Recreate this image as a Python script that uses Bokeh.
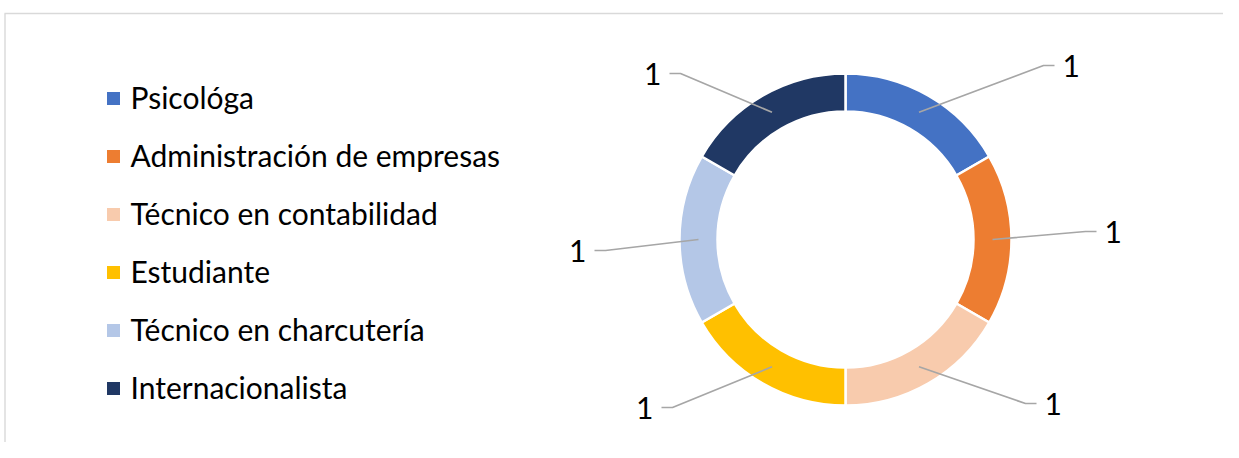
import numpy as np
from bokeh.plotting import figure
from bokeh.models import Range1d
from bokeh.core.properties import value
from bokeh.embed import file_html
from bokeh.resources import INLINE

# ---- data ----
categories = ["Psicológa", "Administración de empresas", "Técnico en contabilidad",
              "Estudiante", "Técnico en charcutería", "Internacionalista"]
counts = [1, 1, 1, 1, 1, 1]
colors = ["#4472C4", "#ED7D31", "#F8CBAD", "#FFC000", "#B4C7E7", "#203864"]

# ---- layout ----
W, H = 1223, 442
FONT = "Lato"
FS = "30px"

def px(X):
    return X

def py(Y):
    return H - Y

p = figure(width=W, height=H, output_backend="svg", toolbar_location=None,
           x_range=Range1d(0, W), y_range=Range1d(0, H), min_border=0)
p.axis.visible = False
p.grid.visible = False
p.outline_line_color = None
p.background_fill_color = "white"
p.border_fill_color = "white"

# chart border (top and left visible in reference)
p.line([px(4), px(1239)], [py(13), py(13)], line_color="#D9D9D9", line_width=1.4)
p.line([px(4.5), px(4.5)], [py(13), py(460)], line_color="#D9D9D9", line_width=1.4)

# donut
cx, cy = px(845), py(239)
r_in, r_out = 128, 166
vals = np.array(counts, dtype=float)
frac = vals / vals.sum()
cum = np.concatenate([[0], np.cumsum(frac)])
start = np.pi / 2 - 2 * np.pi * cum[:-1]
end = np.pi / 2 - 2 * np.pi * cum[1:]
p.annular_wedge(x=cx, y=cy, inner_radius=r_in, outer_radius=r_out,
                start_angle=list(start), end_angle=list(end), direction="clock",
                fill_color=colors, line_color="white", line_width=2.5)

# leader lines + labels
mid = (start + end) / 2
r_mid = (r_in + r_out) / 2
# elbow offsets from centre (layout), per slice
elbow = [(198, 174), (240, 8), (180, -164), (-173, -168), (-240, -11), (-165, 166)]
for i, m in enumerate(mid):
    sx = cx + r_mid * np.cos(m)
    sy = cy + r_mid * np.sin(m)
    ex, ey = cx + elbow[i][0], cy + elbow[i][1]
    side = 1 if elbow[i][0] > 0 else -1
    hx = ex + side * 11
    p.line([sx, ex, hx], [sy, ey, ey], line_color="#A6A6A6", line_width=1.7)
    p.text(x=[hx + side * 8], y=[ey], text=[str(counts[i])],
           text_font=value(FONT), text_font_size=FS, text_color="#000000",
           text_align="left" if side > 0 else "right", text_baseline="middle")

# legend
leg_y = [py(98 + 58 * i) for i in range(len(categories))]
p.rect(x=[px(113)] * len(categories), y=leg_y, width=13, height=13,
       fill_color=colors, line_color=None)
p.text(x=[px(130)] * len(categories), y=[y + 1.5 for y in leg_y], text=categories,
       text_font=value(FONT), text_font_size=FS, text_color="#000000",
       text_align="left", text_baseline="middle")

open("out.html", "w").write(file_html(p, INLINE))
